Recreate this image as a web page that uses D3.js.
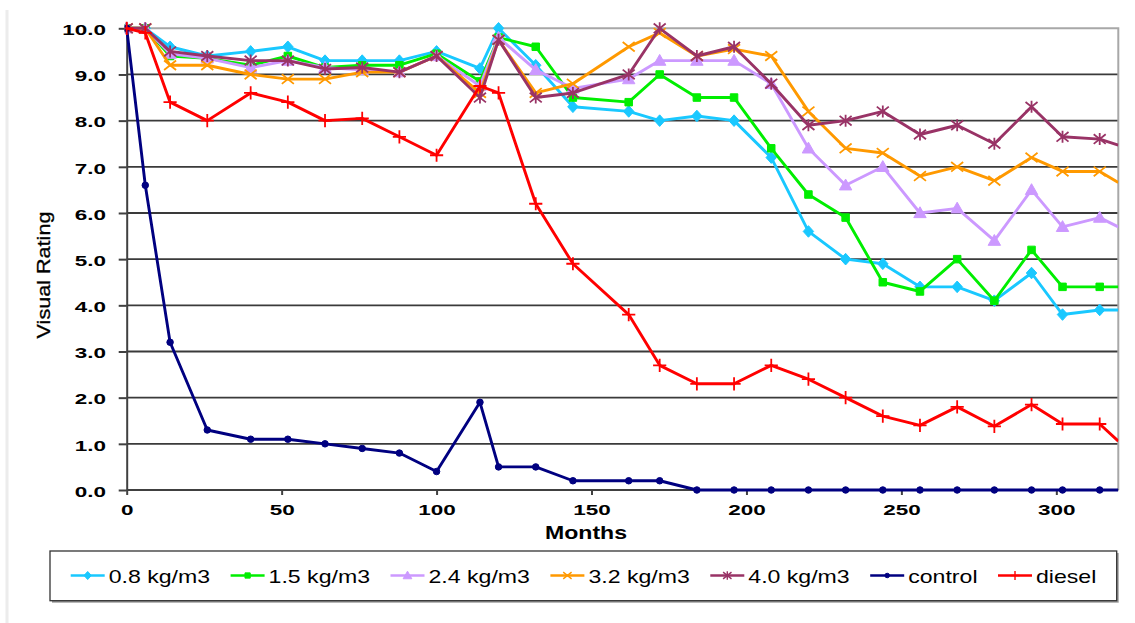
<!DOCTYPE html>
<html>
<head>
<meta charset="utf-8">
<style>
    body { margin: 0; background: #fff; }
    svg { display: block; font-family: "Liberation Sans", Arial, sans-serif; }
    .axis .domain { stroke: #404040; stroke-width: 2; }
    .axis .tick line { stroke: #404040; stroke-width: 2; }
    .axis text { fill: #000; font-weight: bold; font-size: 15.5px; }
</style>
</head>
<body>
<svg width="1135" height="623"></svg>
<script src="https://d3js.org/d3.v7.min.js"></script>
<script>
// months at which the rating was taken
var months = [0, 6, 14, 26, 40, 52, 64, 76, 88, 100, 114, 120, 132, 144, 162, 172,
    184, 196, 208, 220, 232, 244, 256, 268, 280, 292, 302, 314, 320];

var rate08 = [10, 10, 9.6, 9.4, 9.5, 9.6, 9.3, 9.3, 9.3, 9.5, 9.13, 10, 9.2, 8.3, 8.2, 8.0,
    8.1, 8.0, 7.2, 5.6, 5.0, 4.9, 4.4, 4.4, 4.1, 4.7, 3.8, 3.9, 3.9];
var rate15 = [10, 10, 9.4, 9.35, 9.2, 9.4, 9.15, 9.2, 9.2, 9.45, 8.85, 9.8, 9.6, 8.5, 8.4, 9.0,
    8.5, 8.5, 7.4, 6.4, 5.9, 4.5, 4.3, 5.0, 4.1, 5.2, 4.4, 4.4, 4.4];
var rate24 = [10, 10, 9.45, 9.35, 9.15, 9.3, 9.15, 9.1, 9.05, 9.4, 8.75, 9.8, 9.1, 8.7, 8.9, 9.3,
    9.3, 9.3, 8.8, 7.4, 6.6, 7.0, 6.0, 6.1, 5.4, 6.5, 5.7, 5.9, 5.7];
var rate32 = [10, 10, 9.2, 9.2, 9.0, 8.9, 8.9, 9.05, 9.05, 9.4, 8.6, 9.75, 8.6, 8.8, 9.6, 9.9,
    9.4, 9.55, 9.4, 8.2, 7.4, 7.3, 6.8, 7.0, 6.7, 7.2, 6.9, 6.9, 6.66];
var rate40 = [10, 10, 9.5, 9.4, 9.3, 9.3, 9.12, 9.15, 9.05, 9.4, 8.5, 9.75, 8.5, 8.6, 9.0, 10.0,
    9.4, 9.6, 8.8, 7.9, 8.0, 8.2, 7.7, 7.9, 7.5, 8.3, 7.65, 7.6, 7.47];
var control = [10, 6.6, 3.2, 1.3, 1.1, 1.1, 1.0, 0.9, 0.8, 0.4, 1.9, 0.5, 0.5, 0.2, 0.2, 0.2,
    0, 0, 0, 0, 0, 0, 0, 0, 0, 0, 0, 0, 0];
var diesel = [10, 9.9, 8.4, 8.0, 8.6, 8.4, 8.0, 8.05, 7.65, 7.25, 8.75, 8.6, 6.2, 4.9, 3.8, 2.7,
    2.3, 2.3, 2.7, 2.4, 2.0, 1.6, 1.4, 1.8, 1.38, 1.85, 1.43, 1.43, 1.06];

var seriesNames = ["0.8 kg/m3", "1.5 kg/m3", "2.4 kg/m3", "3.2 kg/m3", "4.0 kg/m3", "control", "diesel"];
var seriesData = [rate08, rate15, rate24, rate32, rate40, control, diesel];
var seriesColors = ["#19c8ff", "#00ee00", "#cc99ff", "#ff9900", "#993366", "#000080", "#ff0000"];
var seriesMarks = ["diamond", "square", "triangle", "x", "star", "circle", "plus"];

var xTicks = [0, 50, 100, 150, 200, 250, 300];
var yTicks = [0, 1, 2, 3, 4, 5, 6, 7, 8, 9, 10];

var svg = d3.select("svg"),
    margin = { top: 28.3, right: 16.7, bottom: 133, left: 126.7 },
    width = +svg.attr("width") - margin.left - margin.right,
    height = +svg.attr("height") - margin.top - margin.bottom,
    sx = 1.32,   // picture text is stretched sideways
    sxTick = 1.45;

// faint frame at the far left
svg.append("line").attr("x1", 7).attr("x2", 7).attr("y1", 10).attr("y2", 623)
    .attr("stroke", "#ececec").attr("stroke-width", 3);

var g = svg.append("g").attr("transform", "translate(" + margin.left + "," + margin.top + ")");

var x = d3.scaleLinear().domain([0, 320]).range([0, width]);
var y = d3.scaleLinear().domain([0, 10]).range([height, 0]);

// grid lines
g.append("g").selectAll("line")
    .data(yTicks.filter(function (d) { return d > 0 && d < 10; }))
    .enter().append("line")
    .attr("x1", 0).attr("x2", width)
    .attr("y1", function (d) { return y(d); }).attr("y2", function (d) { return y(d); })
    .attr("stroke", "#3a3a3a").attr("stroke-width", 1.8);

// plot frame top / right
g.append("path")
    .attr("d", "M0," + y(10) + "H" + width + "V" + height)
    .attr("fill", "none").attr("stroke", "#a8a8a8").attr("stroke-width", 2);

// axes
var yAxis = g.append("g").attr("class", "axis")
    .call(d3.axisLeft(y).tickValues(yTicks).tickFormat(d3.format(".1f")).tickSize(8).tickSizeOuter(0));
yAxis.selectAll("text")
    .attr("x", -20.7 / sxTick).attr("dy", "0.4em")
    .attr("transform", "scale(" + sxTick + ",1)");

var xAxis = g.append("g").attr("class", "axis").attr("transform", "translate(0," + height + ")")
    .call(d3.axisBottom(x).tickValues(xTicks).tickSize(5).tickSizeOuter(0));
xAxis.select(".domain").attr("d", "M0,0H" + width);
xAxis.selectAll("text")
    .attr("y", 25.5).attr("dy", null)
    .attr("transform", "scale(" + sxTick + ",1)");

// axis titles
svg.append("text")
    .attr("transform", "translate(586,539) scale(" + sx + ",1)")
    .attr("text-anchor", "middle")
    .style("font-weight", "bold").style("font-size", "17.5px")
    .text("Months");

svg.append("text")
    .attr("transform", "translate(50,275) rotate(-90) scale(1.2,1)")
    .attr("text-anchor", "middle")
    .style("font-size", "18px")
    .style("stroke", "#000").style("stroke-width", 0.3)
    .text("Visual Rating");

// marker shapes
function markPath(type, r) {
    switch (type) {
        case "diamond": return "M0," + (-r) + "L" + r * 0.9 + ",0L0," + r + "L" + (-r * 0.9) + ",0Z";
        case "square": return "M" + (-r * 0.75) + "," + (-r * 0.75) + "h" + r * 1.5 + "v" + r * 1.5 + "h" + (-r * 1.5) + "Z";
        case "triangle": return "M0," + (-r) + "L" + r + "," + r * 0.75 + "L" + (-r) + "," + r * 0.75 + "Z";
        case "circle": return d3.symbol().type(d3.symbolCircle).size(Math.PI * r * r * 0.5)();
        case "x": return "M" + (-r) + "," + (-r * 0.8) + "L" + r + "," + r * 0.8 + "M" + (-r) + "," + r * 0.8 + "L" + r + "," + (-r * 0.8);
        case "star": return "M" + (-r) + "," + (-r * 0.8) + "L" + r + "," + r * 0.8 + "M" + (-r) + "," + r * 0.8 + "L" + r + "," + (-r * 0.8) + "M0," + (-r) + "V" + r;
        case "plus": return "M" + (-r * 1.1) + ",0H" + r * 1.1 + "M0," + (-r * 1.1) + "V" + r * 1.1;
    }
}
var markSize = { diamond: 5.8, square: 5, triangle: 6.2, circle: 4.6, x: 6, star: 6, plus: 6 };
function isStroke(t) { return t === "x" || t === "star" || t === "plus"; }

svg.append("defs").append("clipPath").attr("id", "plotclip")
    .append("rect").attr("x", -2).attr("y", -8).attr("width", width + 2).attr("height", height + 16);

var line = d3.line()
    .x(function (d) { return x(d.m); })
    .y(function (d) { return y(d.v); });

var series = seriesNames.map(function (name, i) {
    return {
        name: name, color: seriesColors[i], mark: seriesMarks[i],
        values: months.map(function (m, j) { return { m: m, v: seriesData[i][j] }; })
    };
});

var sg = g.append("g").attr("clip-path", "url(#plotclip)")
    .selectAll("g").data(series).enter().append("g");

sg.append("path")
    .attr("d", function (d) { return line(d.values); })
    .attr("fill", "none")
    .attr("stroke", function (d) { return d.color; })
    .attr("stroke-width", 2.9)
    .attr("stroke-linejoin", "round");

sg.each(function (s) {
    d3.select(this).selectAll("path.mk")
        .data(s.values.filter(function (d) { return d.m < 320; }))
        .enter().append("path").attr("class", "mk")
        .attr("transform", function (d) { return "translate(" + x(d.m) + "," + y(d.v) + ")"; })
        .attr("d", markPath(s.mark, markSize[s.mark]))
        .attr("fill", isStroke(s.mark) ? "none" : s.color)
        .attr("stroke", s.color)
        .attr("stroke-width", isStroke(s.mark) ? 1.8 : 1);
});

// legend
var legend = svg.append("g");
legend.append("rect")
    .attr("x", 52).attr("y", 553).attr("width", 1066.7).attr("height", 49.7)
    .attr("fill", "#9a9a9a");
legend.append("rect")
    .attr("x", 50).attr("y", 551).attr("width", 1066.7).attr("height", 49.7)
    .attr("fill", "#fff").attr("stroke", "#333").attr("stroke-width", 1.3);

var lx = 70.7, ly = 575.5;
series.forEach(function (s) {
    var it = legend.append("g");
    it.append("line").attr("x1", lx).attr("x2", lx + 34).attr("y1", ly).attr("y2", ly)
        .attr("stroke", s.color).attr("stroke-width", 2.4);
    it.append("path")
        .attr("transform", "translate(" + (lx + 17) + "," + ly + ")")
        .attr("d", markPath(s.mark, markSize[s.mark] * 0.7))
        .attr("fill", isStroke(s.mark) ? "none" : s.color)
        .attr("stroke", s.color).attr("stroke-width", isStroke(s.mark) ? 1.4 : 1);
    var t = it.append("text")
        .attr("transform", "translate(" + (lx + 38) + ",582.5) scale(" + sx + ",1)")
        .style("font-size", "17.5px")
        .text(s.name);
    lx += 38 + t.node().getComputedTextLength() * sx + 20.5;
});
</script>
</body>
</html>
